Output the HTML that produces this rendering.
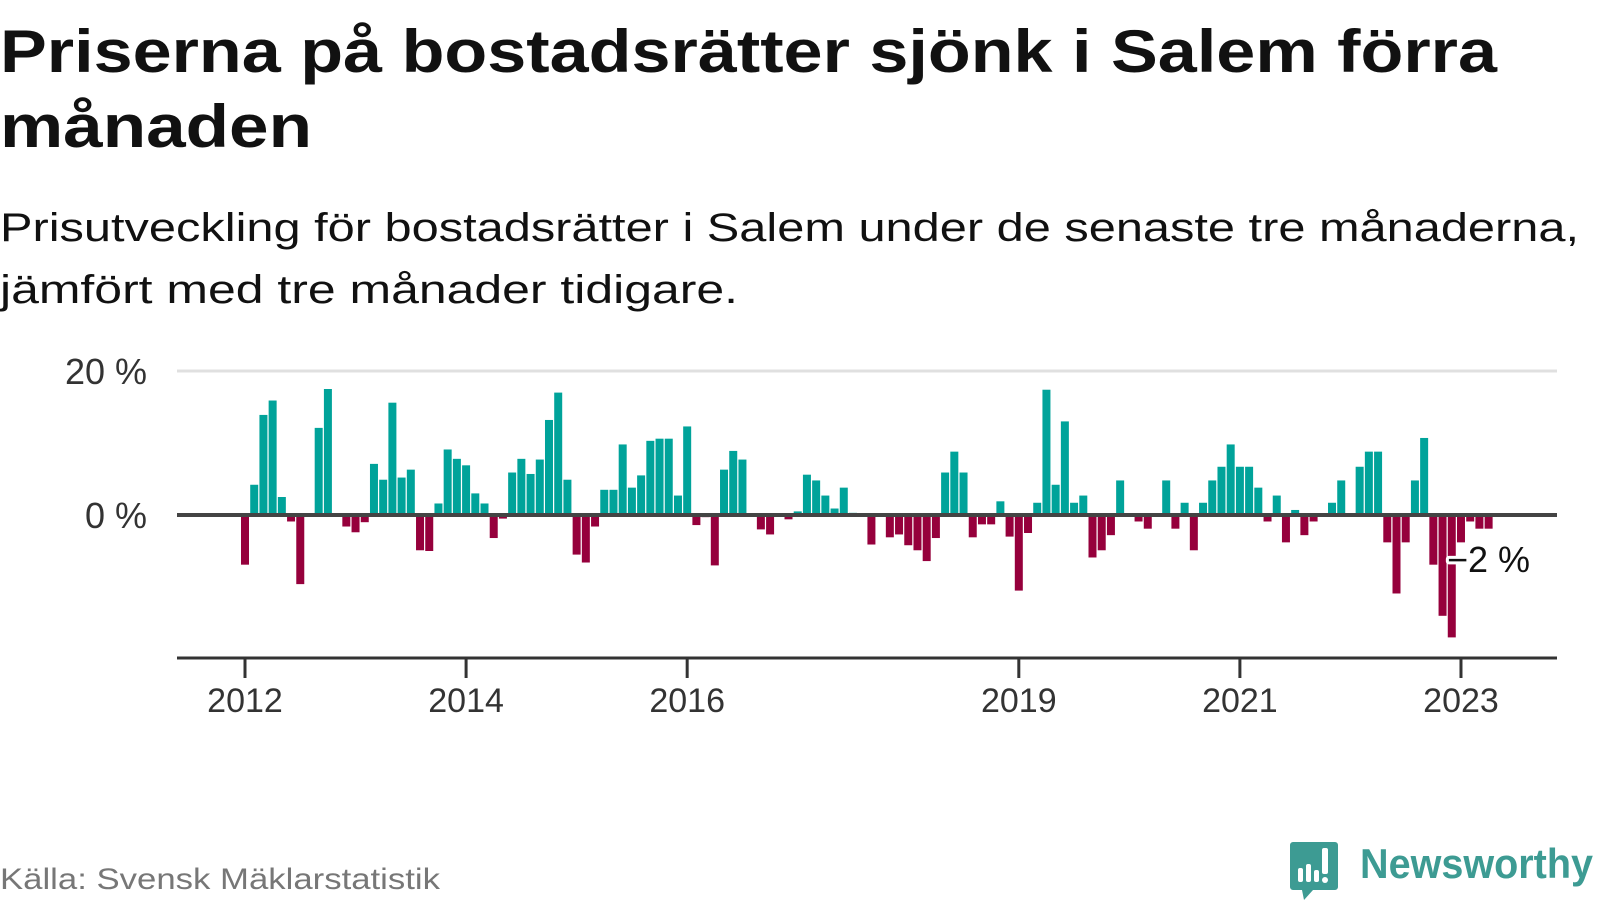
<!DOCTYPE html>
<html><head><meta charset="utf-8">
<style>
html,body{margin:0;padding:0;background:#fff;}
svg{display:block;font-family:"Liberation Sans",sans-serif;}
</style></head>
<body>
<svg id="chart" width="1600" height="900" viewBox="0 0 1600 900" xmlns="http://www.w3.org/2000/svg">
  <text x="0" y="72" font-size="60" font-weight="bold" fill="#111" textLength="1497" lengthAdjust="spacingAndGlyphs">Priserna på bostadsrätter sjönk i Salem förra</text>
  <text x="0" y="147" font-size="60" font-weight="bold" fill="#111" textLength="312" lengthAdjust="spacingAndGlyphs">månaden</text>
  <text x="0" y="241" font-size="40" fill="#111" textLength="1579" lengthAdjust="spacingAndGlyphs">Prisutveckling för bostadsrätter i Salem under de senaste tre månaderna,</text>
  <text x="0" y="303" font-size="40" fill="#111" textLength="738" lengthAdjust="spacingAndGlyphs">jämfört med tre månader tidigare.</text>
  <g id="grid"></g>
  <g id="bars"></g>
  <g id="axes"></g>
  <text x="0" y="889" font-size="30" fill="#777" textLength="440" lengthAdjust="spacingAndGlyphs">Källa: Svensk Mäklarstatistik</text>
  <g>
    <path d="M1293,842 h42 a3,3 0 0 1 3,3 v42 a3,3 0 0 1 -3,3 h-22 l-9,10 l-2,-10 h-9 a3,3 0 0 1 -3,-3 v-42 a3,3 0 0 1 3,-3z" fill="#3d9b93"/>
    <rect x="1298" y="868" width="5" height="14" rx="2" fill="#fff"/>
    <rect x="1306" y="864" width="5" height="18" rx="2" fill="#fff"/>
    <rect x="1314" y="870" width="5" height="12" rx="2" fill="#fff"/>
    <rect x="1322" y="848" width="6" height="26" rx="2" fill="#fff"/>
    <circle cx="1325" cy="880" r="3" fill="#fff"/>
    <text x="1360" y="878" font-size="42" font-weight="bold" fill="#3d9b93" textLength="233" lengthAdjust="spacingAndGlyphs">Newsworthy</text>
  </g>
</svg>
<script>
const values = [-6.9,4.2,13.9,15.9,2.5,-0.9,-9.6,0,12.1,17.5,0,-1.6,-2.4,-1.0,7.1,4.9,15.6,5.2,6.3,-4.9,-5.0,1.6,9.1,7.8,6.9,3.0,1.6,-3.2,-0.5,5.9,7.8,5.7,7.7,13.2,17.0,4.9,-5.5,-6.6,-1.6,3.5,3.5,9.8,3.8,5.5,10.3,10.6,10.6,2.7,12.3,-1.4,-0.3,-7.0,6.3,8.9,7.7,0,-2.0,-2.7,0,-0.6,0.5,5.6,4.8,2.7,0.9,3.8,0.3,0,-4.1,-0.2,-3.1,-2.7,-4.2,-4.9,-6.4,-3.2,5.9,8.8,5.9,-3.1,-1.3,-1.3,1.9,-3.0,-10.5,-2.5,1.7,17.4,4.2,13.0,1.7,2.7,-5.9,-4.9,-2.8,4.8,0,-0.9,-1.9,0,4.8,-1.9,1.7,-4.9,1.7,4.8,6.7,9.8,6.7,6.7,3.8,-0.9,2.7,-3.8,0.7,-2.8,-0.9,0,1.7,4.8,0,6.7,8.8,8.8,-3.8,-10.9,-3.8,4.8,10.7,-6.9,-14.0,-17.0,-3.8,-0.9,-1.9,-1.9];
const startYear = 2012;
const tickYears = [2012, 2014, 2016, 2019, 2021, 2023];
const yTicks = [0, 20];

const NS = "http://www.w3.org/2000/svg";
const x = m => 245 + m * 9.212;
const y = v => 515 - v * 7.2;
function mk(tag, attrs, parent) {
  const e = document.createElementNS(NS, tag);
  for (const k in attrs) e.setAttribute(k, attrs[k]);
  parent.appendChild(e);
  return e;
}
const grid = document.getElementById('grid');
const barsG = document.getElementById('bars');
const axes = document.getElementById('axes');

yTicks.forEach(t => {
  if (t !== 0) {
    const l = mk('line', {x1: 177, x2: 1557, y1: y(t), y2: y(t), stroke: '#e0e0e0', 'stroke-width': 3}, grid);
    
    
  }
  const tx = mk('text', {x: 147, y: y(t) + 13, 'text-anchor': 'end', 'font-size': 36, fill: '#333'}, grid);
  tx.textContent = t + ' %';
  
  
});

values.forEach((v, i) => {
  if (v === 0) return;
  const top = v > 0 ? y(v) : y(0);
  const h = Math.abs(y(v) - y(0));
  const r = mk('rect', {x: x(i) - 4, y: top, width: 8, height: h, fill: v > 0 ? '#00a39a' : '#96003c'}, barsG);
  
  
});

const zl = mk('line', {x1: 177, x2: 1557, y1: y(0), y2: y(0), stroke: '#444', 'stroke-width': 4}, axes);



const xa = mk('line', {x1: 177, x2: 1557, y1: 658, y2: 658, stroke: '#333', 'stroke-width': 3}, axes);



tickYears.forEach(yr => {
  const px = x((yr - startYear) * 12);
  const t = mk('line', {x1: px, x2: px, y1: 658, y2: 678, stroke: '#333', 'stroke-width': 3}, axes);
  
  
  const lb = mk('text', {x: px, y: 712, 'text-anchor': 'middle', 'font-size': 34, fill: '#333'}, axes);
  lb.textContent = yr;
  
  
});

const last = values[values.length - 1];
const lbl = mk('text', {x: 1447, y: 572, 'font-size': 36, fill: '#111', stroke: '#fff', 'stroke-width': 6, 'paint-order': 'stroke', 'stroke-linejoin': 'round'}, axes);
lbl.textContent = (Math.round(last) < 0 ? '\u2212' : '') + Math.abs(Math.round(last)) + ' %';


</script>
</body></html>
